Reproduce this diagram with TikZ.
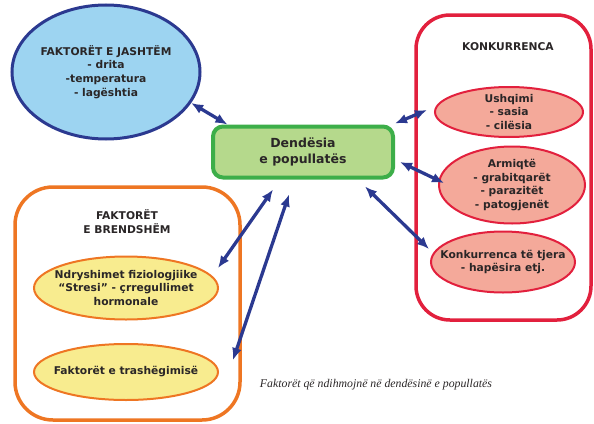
\documentclass[tikz,border=0pt]{standalone}
\usepackage{fontspec}
\setmainfont{DejaVu Sans}
\newfontfamily\capfont{Liberation Serif}
\usetikzlibrary{arrows.meta, calc, shapes.geometric}
\usepackage{xcolor}
\definecolor{navy}{HTML}{2B3990}
\definecolor{skyfill}{HTML}{9DD4F1}
\definecolor{leafgreen}{HTML}{3DAE49}
\definecolor{leaffill}{HTML}{B5D98C}
\definecolor{konkred}{HTML}{E2203D}
\definecolor{pinkfill}{HTML}{F4A99A}
\definecolor{brendor}{HTML}{EE7623}
\definecolor{yelfill}{HTML}{F8EC8F}
\definecolor{ink}{HTML}{2A2627}

\begin{document}
\begin{tikzpicture}[x=1pt,y=-1pt,
    font=\fontsize{10.7}{13.8}\selectfont\bfseries, text=ink,
    grp/.style={draw,rectangle,line width=3.5pt,rounded corners=38pt},
    bub/.style={ellipse,draw,line width=2pt,inner xsep=-16pt,inner ysep=-4pt,align=center},
    arr/.style={{Latex[length=12pt,width=10pt]}-{Latex[length=12pt,width=10pt]},line width=3.3pt,navy},
    note/.style={font=\capfont\itshape\fontsize{11.8}{13}\selectfont}]
    \useasboundingbox (0,0) rectangle (594,423);
    % Groups
    \node[grp,brendor,minimum width=225pt,minimum height=233pt] (brend) at (127.5,303.5) {};
    \node[grp,konkred,minimum width=175pt,minimum height=305pt,rounded corners=34pt] (konk) at (503.5,167.5) {};
    \node[align=center] (brendT) at (127,222) {FAKTORËT\\E BRENDSHËM};
    \node (konkT) at (508,47) {KONKURRENCA};
    % Central box
    \node[draw=leafgreen,fill=leaffill,line width=4pt,rounded corners=10pt,
      minimum width=180pt,minimum height=51pt,align=center,
      font=\fontsize{12.5}{15.5}\selectfont\bfseries] (dend) at (303,152) {Dendësia\\e popullatës};
    % Outside factors
    \node[bub,draw=navy,fill=skyfill,line width=3pt,minimum width=188pt,minimum height=134pt] (jasht) at (106,72)
      {FAKTORËT E JASHTËM\\- drita\\-temperatura\\- lagështia};
    % Inside factors
    \node[bub,draw=brendor,fill=yelfill,minimum width=184pt,minimum height=63pt] (ndry) at (126,288)
      {Ndryshimet fiziologjiike\\“Stresi” - çrregullimet\\hormonale};
    \node[bub,draw=brendor,fill=yelfill,minimum width=184pt,minimum height=56pt] (trash) at (126,372)
      {Faktorët e trashëgimisë};
    % Competition
    \node[bub,draw=konkred,fill=pinkfill,minimum width=148pt,minimum height=50pt] (ushq) at (509,112)
      {Ushqimi\\- sasia\\- cilësia};
    \node[bub,draw=konkred,fill=pinkfill,minimum width=146pt,minimum height=77pt] (armq) at (512,185)
      {Armiqtë\\- grabitqarët\\- parazitët\\- patogjenët};
    \node[bub,draw=konkred,fill=pinkfill,minimum width=144pt,minimum height=61pt] (tjera) at (503,262)
      {Konkurrenca të tjera\\- hapësira etj.};
    % Arrows
    \draw[arr] (jasht.-20) -- (dend.160);
    \draw[arr] ($(dend.south)+(-30,10)$) -- ($(ndry.east)+(-1,-20)$);
    \draw[arr] ($(dend.south)+(-14,15)$) -- ($(trash.east)+(14,-12)$);
    \draw[arr] ($(dend.north east)+(0,-1)$) -- ($(ushq.west)+(-7,-2)$);
    \draw[arr] ($(dend.east)+(5,10)$) -- ($(armq.west)+(6,-2)$);
    \draw[arr] ($(dend.south east)+(-30,7)$) -- ($(tjera.west)+(-1,-13)$);
    \node[note] (cap) at (376,385) {Faktorët që ndihmojnë në dendësinë e popullatës};
  \end{tikzpicture}
\end{document}
